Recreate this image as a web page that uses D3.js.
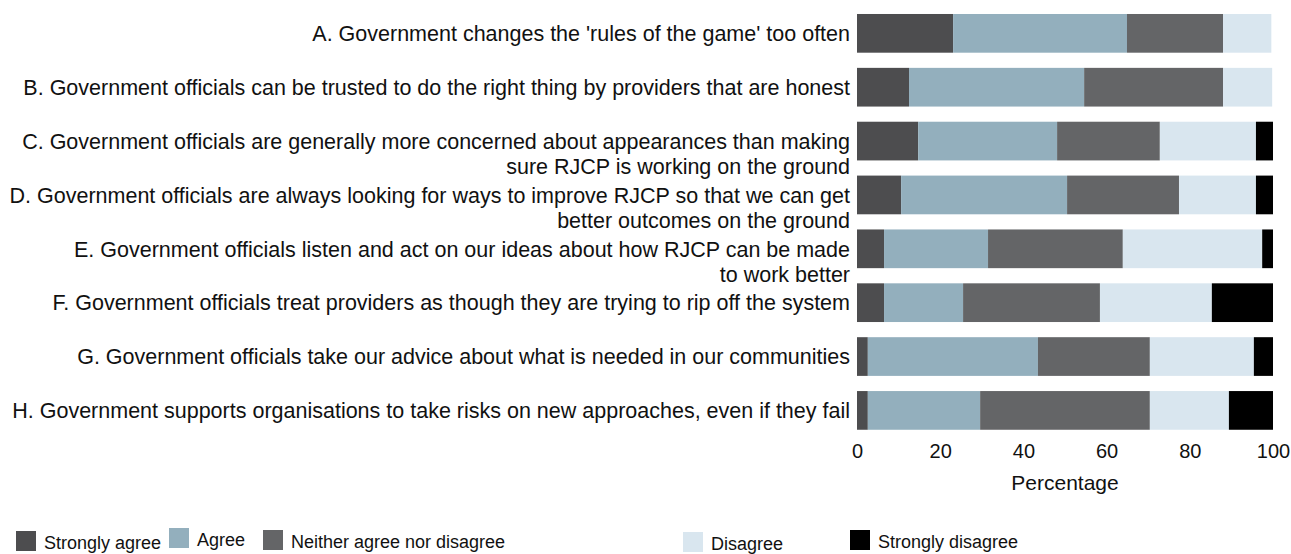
<!DOCTYPE html>
<html>
<head>
<meta charset="utf-8">
<script src="https://cdn.jsdelivr.net/npm/d3@7"></script>
<style>
  html, body { margin: 0; padding: 0; background: #fff; }
  svg { display: block; font-family: "Liberation Sans", Arial, Helvetica, sans-serif; }
</style>
</head>
<body>
<svg id="chart" width="1291" height="554"></svg>
<script>
const categories = [
  ["A. Government changes the 'rules of the game' too often"],
  ["B. Government officials can be trusted to do the right thing by providers that are honest"],
  ["C. Government officials are generally more concerned about appearances than making", "sure RJCP is working on the ground"],
  ["D. Government officials are always looking for ways to improve RJCP so that we can get", "better outcomes on the ground"],
  ["E. Government officials listen and act on our ideas about how RJCP can be made", "to work better"],
  ["F. Government officials treat providers as though they are trying to rip off the system"],
  ["G. Government officials take our advice about what is needed in our communities"],
  ["H. Government supports organisations to take risks on new approaches, even if they fail"]
];
const seriesNames = ["Strongly agree", "Agree", "Neither agree nor disagree", "Disagree", "Strongly disagree"];
const stronglyAgree    = [23.1, 12.5, 14.7, 10.6, 6.5, 6.5, 2.6, 2.6];
const agree            = [41.8, 42.1, 33.4, 39.9, 25.0, 19.0, 40.9, 27.0];
const neither          = [23.1, 33.4, 24.7, 26.9, 32.4, 32.9, 26.9, 40.8];
const disagree         = [11.6, 11.8, 23.1, 18.5, 33.5, 26.9, 25.0, 19.0];
const stronglyDisagree = [0.0, 0.0, 4.1, 4.1, 2.6, 14.7, 4.6, 10.6];
const xTicks = [0, 20, 40, 60, 80, 100];
const xTitle = "Percentage";

const colors = ["#4d4d4f", "#93afbd", "#646567", "#d9e6ef", "#000000"];

const rows = categories.map((c, i) => ({
  key: i,
  "Strongly agree": stronglyAgree[i],
  "Agree": agree[i],
  "Neither agree nor disagree": neither[i],
  "Disagree": disagree[i],
  "Strongly disagree": stronglyDisagree[i]
}));

const svg = d3.select("#chart");
const x = d3.scaleLinear().domain([0, 100]).range([857, 1273]);
const y = d3.scaleBand().domain(d3.range(categories.length)).range([6.45, 437.3]).paddingInner(0.2815).paddingOuter(0.14);
const color = d3.scaleOrdinal().domain(seriesNames).range(colors);

const stack = d3.stack().keys(seriesNames)(rows);

svg.append("g").selectAll("g").data(stack).join("g")
  .attr("fill", d => color(d.key))
  .selectAll("rect").data(d => d).join("rect")
  .attr("x", d => x(d[0]))
  .attr("y", (d, i) => y(i))
  .attr("width", d => Math.max(0, x(d[1]) - x(d[0])))
  .attr("height", y.bandwidth());

// Category labels
const labelG = svg.append("g").attr("font-size", 21.5).attr("fill", "#111");
categories.forEach((lines, i) => {
  const cy = y(i) + y.bandwidth() / 2;
  const t = labelG.append("text").attr("text-anchor", "end");
  lines.forEach((ln, j) => {
    t.append("tspan").attr("x", 850).attr("y", cy + 7.7 + j * 25).text(ln);
  });
});

// X axis (no domain line, no ticks)
const xAxis = d3.axisBottom(x).tickValues(xTicks).tickSize(0).tickPadding(0);
const ax = svg.append("g").attr("transform", "translate(0,443)").call(xAxis);
ax.select(".domain").remove();
ax.selectAll("text").attr("font-size", 20).attr("fill", "#111").attr("font-family", "Liberation Sans, Arial, sans-serif").attr("dy", "0.76em");

svg.append("text").attr("x", x(50)).attr("y", 490).attr("text-anchor", "middle")
  .attr("font-size", 21).attr("fill", "#111").text(xTitle);

// Legend
const legendX = [16, 169, 263, 683, 850];
const legendY = [531, 528, 530, 532, 530];
const leg = svg.append("g");
seriesNames.forEach((s, i) => {
  leg.append("rect").attr("x", legendX[i]).attr("y", legendY[i]).attr("width", 20).attr("height", 20).attr("fill", colors[i]);
  leg.append("text").attr("x", legendX[i] + 28).attr("y", legendY[i] + 18).attr("font-size", 18).attr("fill", "#111").text(s);
});
</script>
</body>
</html>
